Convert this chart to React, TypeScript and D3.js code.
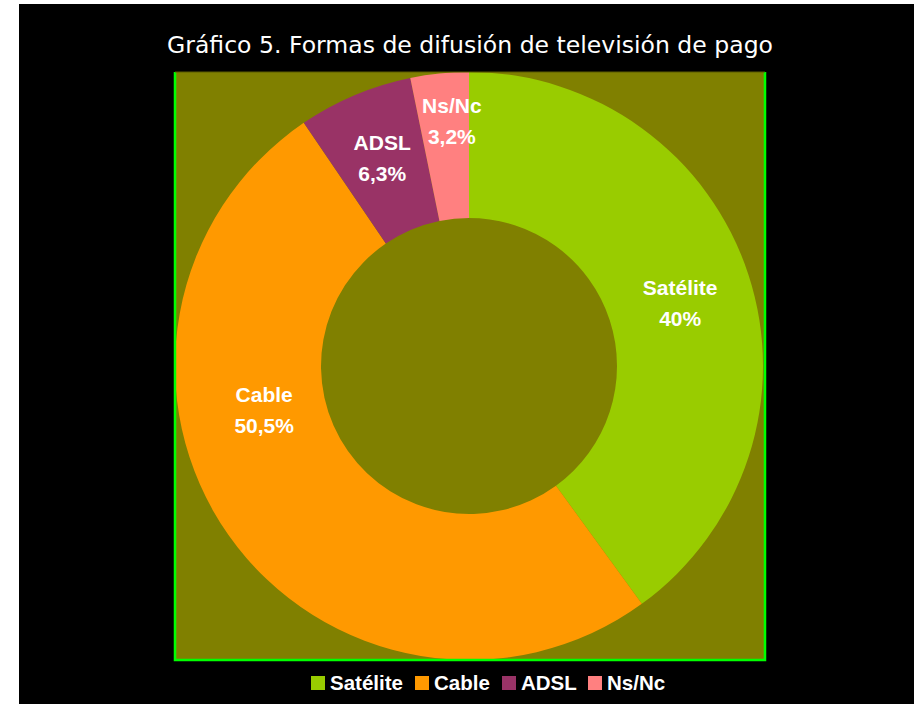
import React from "react";
import * as d3 from "d3";

const categories = ["Satélite", "Cable", "ADSL", "Ns/Nc"];
const values = [40, 50.5, 6.3, 3.2];
const valueLabels = ["40%", "50,5%", "6,3%", "3,2%"];
const colors = ["#99CC00", "#FF9900", "#993366", "#FF8080"];
const title = "Gráfico 5. Formas de difusión de televisión de pago";

// manual label nudges (as in the original, labels were moved by hand)
const labelNudge: [number, number][] = [
  [1, 5],
  [-24, -83],
  [-1, -4],
  [5, -25],
];

const W = 914;
const H = 704;
const plot = { x: 175, y: 72, w: 590, h: 588 };

export default function App() {
  const cx = 469;
  const cy = 366;
  const outerR = 294;
  const innerR = 148;

  const pie = d3
    .pie<number>()
    .sort(null)
    .value((d) => d)
    .startAngle(0)
    .endAngle(2 * Math.PI);
  const arcs = pie(values);
  const arc = d3.arc<d3.PieArcDatum<number>>().innerRadius(innerR).outerRadius(outerR);

  const legendX = [311, 415, 502, 588];
  const labelFont = "'Liberation Sans', Arial, sans-serif";

  return (
    <svg
      width={W}
      height={H}
      style={{ position: "absolute", left: 0, top: 0, display: "block" }}
    >
      <rect x={0} y={0} width={W} height={H} fill="#ffffff" />
      <rect x={19} y={4} width={W - 19} height={H - 4} fill="#000000" />
      <text
        x={470}
        y={53}
        textAnchor="middle"
        fill="#ffffff"
        fontFamily="'DejaVu Sans', Tahoma, sans-serif"
        fontSize={23}
        textLength={606}
        lengthAdjust="spacingAndGlyphs"
      >
        {title}
      </text>
      <defs>
        <clipPath id="plotclip">
          <rect x={plot.x} y={plot.y} width={plot.w} height={plot.h} />
        </clipPath>
      </defs>
      <rect x={plot.x} y={plot.y} width={plot.w} height={plot.h} fill="#808000" />
      <g clipPath="url(#plotclip)">
        <g transform={`translate(${cx},${cy})`}>
          {arcs.map((a, i) => (
            <path key={i} d={arc(a) || ""} fill={colors[i]} />
          ))}
        </g>
      </g>
      <path
        d={`M${plot.x},${plot.y} V${plot.y + plot.h} H${plot.x + plot.w} V${plot.y}`}
        fill="none"
        stroke="#00FF00"
        strokeWidth={2.5}
      />
      <line
        x1={plot.x}
        x2={plot.x + plot.w}
        y1={plot.y}
        y2={plot.y}
        stroke="#5a5a00"
        strokeWidth={1}
      />
      <g transform={`translate(${cx},${cy})`}>
        {arcs.map((a, i) => {
          const [x, y] = arc.centroid(a);
          const lx = x + labelNudge[i][0];
          const ly = y + labelNudge[i][1];
          return (
            <text
              key={i}
              textAnchor="middle"
              fill="#ffffff"
              fontFamily={labelFont}
              fontWeight="bold"
              fontSize={21}
            >
              <tspan x={lx} y={ly - 8}>
                {categories[i]}
              </tspan>
              <tspan x={lx} y={ly + 23}>
                {valueLabels[i]}
              </tspan>
            </text>
          );
        })}
      </g>
      <g>
        {categories.map((c, i) => (
          <g key={c} transform={`translate(${legendX[i]},676)`}>
            <rect x={0} y={0} width={14} height={14} fill={colors[i]} />
            <text
              x={19}
              y={13.5}
              fill="#ffffff"
              fontFamily={labelFont}
              fontWeight="bold"
              fontSize={20.5}
            >
              {c}
            </text>
          </g>
        ))}
      </g>
    </svg>
  );
}
